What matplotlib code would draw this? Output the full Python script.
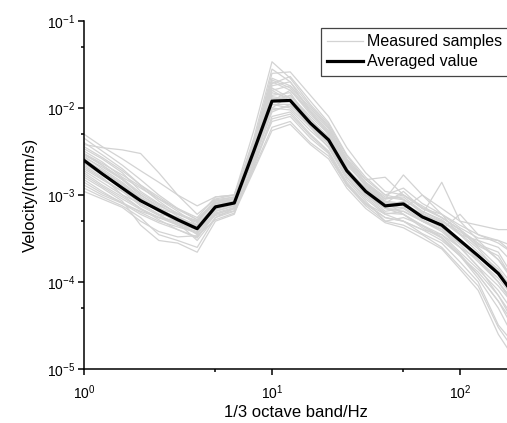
import matplotlib as mpl
mpl.use('Agg')
import matplotlib.pyplot as plt
import matplotlib.ticker as tick
import numpy as np

plt.rcParams['font.family'] = ['Liberation Sans', 'DejaVu Sans']
plt.rcParams['mathtext.fontset'] = 'custom'
plt.rcParams['mathtext.rm'] = 'Liberation Sans'
plt.rcParams['mathtext.it'] = 'Liberation Sans'

# 1/3 octave band centre frequencies (Hz)
freq = [1, 1.25, 1.6, 2, 2.5, 3.15, 4, 5, 6.3, 8, 10, 12.5, 16, 20, 25, 31.5,
        40, 50, 63, 80, 100, 125, 160, 200]

# averaged velocity, um/s
avg = [2.5, 1.75, 1.2, 0.86, 0.67, 0.52, 0.41, 0.73, 0.81, 3.2, 12.0, 12.2,
       6.7, 4.3, 1.9, 1.1, 0.75, 0.79, 0.56, 0.45, 0.30, 0.20, 0.125, 0.065]

# measured samples, um/s
samples = [
    [5.0, 3.6, 2.6, 1.9, 1.4, 1.0, 0.75, 0.95, 1.0, 5.5, 34, 22, 11, 6.5, 2.8, 1.5, 1.0, 1.2, 0.8, 0.6, 0.45, 0.35, 0.28, 0.2],
    [3.8, 3.5, 3.3, 3.0, 1.8, 1.0, 0.6, 0.9, 1.0, 4.0, 25, 26, 14, 8, 3.5, 1.8, 1.1, 1.0, 0.7, 0.55, 0.4, 0.28, 0.18, 0.09],
    [3.0, 2.2, 1.5, 1.0, 0.75, 0.6, 0.5, 0.85, 0.95, 3.5, 18, 20, 9, 5.5, 2.2, 1.3, 0.9, 1.7, 1.0, 0.7, 0.5, 0.45, 0.4, 0.4],
    [2.2, 1.6, 1.0, 0.7, 0.55, 0.45, 0.38, 0.7, 0.8, 2.8, 10, 14, 8, 5.0, 2.0, 1.0, 0.7, 0.6, 0.45, 0.35, 0.22, 0.14, 0.08, 0.04],
    [1.5, 1.1, 0.8, 0.6, 0.48, 0.4, 0.32, 0.6, 0.7, 2.2, 8, 9, 5, 3.2, 1.4, 0.8, 0.55, 0.5, 0.4, 0.3, 0.2, 0.12, 0.06, 0.025],
    [2.8, 2.0, 1.4, 0.95, 0.7, 0.5, 0.35, 0.65, 0.75, 3.0, 15, 13, 7.5, 4.5, 1.8, 1.2, 0.8, 0.75, 0.6, 1.4, 0.5, 0.3, 0.18, 0.1],
    [1.2, 0.95, 0.75, 0.55, 0.35, 0.3, 0.25, 0.55, 0.65, 2.0, 6, 7, 4, 2.8, 1.3, 0.75, 0.5, 0.45, 0.35, 0.25, 0.15, 0.09, 0.03, 0.015],
    [3.4, 2.6, 1.8, 1.1, 0.8, 0.62, 0.5, 0.8, 0.9, 3.8, 20, 16, 8.5, 5.2, 2.4, 1.4, 0.9, 0.95, 0.65, 0.5, 0.35, 0.22, 0.14, 0.07],
    [1.9, 1.4, 1.0, 0.8, 0.6, 0.55, 0.45, 0.75, 0.85, 2.6, 11, 10, 6, 3.8, 1.6, 0.9, 0.6, 0.65, 0.5, 0.4, 0.6, 0.35, 0.3, 0.2],
    [2.5, 1.9, 1.3, 0.9, 0.65, 0.48, 0.3, 0.55, 0.7, 3.3, 13, 12, 6.5, 4.0, 1.7, 1.0, 0.65, 0.7, 0.5, 0.38, 0.25, 0.15, 0.09, 0.05],
    [3.2, 2.4, 1.6, 1.2, 0.9, 0.7, 0.55, 0.95, 1.0, 4.2, 22, 18, 10, 6.0, 2.6, 1.5, 1.6, 1.0, 0.75, 0.55, 0.4, 0.25, 0.15, 0.08],
    [1.6, 1.2, 0.85, 0.45, 0.3, 0.28, 0.22, 0.5, 0.6, 2.4, 9, 11, 6, 3.5, 1.5, 0.85, 0.5, 0.55, 0.45, 0.32, 0.2, 0.11, 0.05, 0.02],
    [2.0, 1.5, 1.1, 0.85, 0.7, 0.6, 0.5, 0.8, 0.85, 2.9, 12, 14, 7.5, 4.6, 2.0, 1.2, 0.85, 0.8, 0.6, 0.45, 0.3, 0.18, 0.1, 0.05],
    [2.7, 2.1, 1.5, 1.0, 0.72, 0.52, 0.42, 0.7, 0.8, 3.1, 14, 15, 7, 4.2, 1.9, 1.1, 0.75, 0.85, 0.55, 0.42, 0.28, 0.2, 0.12, 0.07],
    [1.3, 1.0, 0.8, 0.65, 0.55, 0.47, 0.4, 0.6, 0.7, 2.3, 7, 8, 4.5, 3.0, 1.3, 0.8, 0.6, 0.5, 0.4, 0.35, 0.25, 0.15, 0.07, 0.03],
    [4.0, 2.9, 2.0, 1.3, 0.9, 0.65, 0.45, 0.75, 0.85, 3.6, 17, 13, 7, 4.4, 2.0, 1.2, 0.8, 0.7, 1.0, 0.6, 0.35, 0.3, 0.25, 0.15],
    [2.3, 1.7, 1.2, 0.78, 0.6, 0.45, 0.36, 0.65, 0.75, 3.0, 12, 16, 9, 5, 2.1, 1.0, 0.7, 0.65, 0.5, 0.4, 0.25, 0.18, 0.11, 0.06],
    [1.8, 1.3, 0.95, 0.7, 0.52, 0.4, 0.33, 0.62, 0.72, 2.7, 10, 9.5, 5.5, 3.6, 1.6, 0.95, 0.62, 0.6, 0.42, 0.32, 0.2, 0.13, 0.07, 0.035],
    [2.6, 1.9, 1.35, 0.92, 0.68, 0.55, 0.43, 0.78, 0.9, 3.4, 16, 12, 6.2, 4.0, 1.8, 1.15, 0.8, 1.1, 0.7, 0.6, 0.42, 0.32, 0.3, 0.25],
    [3.0, 2.3, 1.7, 1.25, 0.85, 0.6, 0.48, 0.82, 0.92, 3.7, 19, 23, 12, 6.8, 2.9, 1.6, 1.0, 0.9, 0.62, 0.48, 0.3, 0.18, 0.1, 0.05],
    [1.4, 1.05, 0.82, 0.63, 0.5, 0.43, 0.37, 0.58, 0.66, 2.1, 7.5, 8.5, 4.8, 3.1, 1.35, 0.78, 0.55, 0.5, 0.36, 0.28, 0.17, 0.1, 0.032, 0.018],
    [2.1, 1.55, 1.1, 0.75, 0.58, 0.47, 0.4, 0.7, 0.78, 2.9, 11, 11, 6.4, 4.1, 1.8, 1.0, 0.72, 0.8, 0.58, 0.5, 0.38, 0.26, 0.2, 0.09],
    [4.5, 3.2, 2.2, 1.5, 1.0, 0.7, 0.52, 0.88, 0.95, 4.5, 28, 20, 10.5, 6.2, 2.6, 1.4, 0.95, 0.88, 0.65, 0.52, 0.36, 0.24, 0.13, 0.06],
    [1.7, 1.25, 0.9, 0.68, 0.55, 0.5, 0.46, 0.72, 0.8, 2.5, 9.5, 10.5, 6.8, 4.8, 2.3, 1.3, 0.85, 0.6, 0.44, 0.33, 0.21, 0.12, 0.06, 0.03],
    [2.4, 1.8, 1.25, 0.88, 0.64, 0.5, 0.4, 0.68, 0.78, 3.2, 13.5, 12.5, 6.6, 4.2, 1.85, 1.05, 0.7, 0.72, 0.52, 0.4, 0.27, 0.17, 0.1, 0.055],
    [2.9, 2.2, 1.55, 1.05, 0.78, 0.57, 0.44, 0.74, 0.86, 3.5, 16, 18, 9.5, 5.8, 2.4, 1.25, 0.82, 0.78, 0.55, 0.44, 0.3, 0.2, 0.13, 0.075],
    [1.1, 0.9, 0.72, 0.5, 0.38, 0.33, 0.34, 0.52, 0.62, 1.9, 5.5, 6.5, 3.8, 2.6, 1.2, 0.7, 0.48, 0.42, 0.32, 0.24, 0.14, 0.08, 0.025, 0.012],
    [3.6, 2.7, 1.9, 1.3, 0.95, 0.68, 0.52, 0.85, 0.9, 3.9, 21, 17, 9, 5.4, 2.5, 1.35, 0.9, 1.0, 0.72, 0.55, 0.4, 0.27, 0.22, 0.1],
]

fig = plt.figure(figsize=(5.07, 4.23), dpi=100)
ax1 = fig.add_axes([84/507, 1-369/423, 1-84/507, (369-21)/423])

f = np.array(freq)
for i, s in enumerate(samples):
    ax1.plot(f, np.array(s)*1e-3, color='#d3d3d3', linewidth=0.9,
             label='Measured samples' if i == 0 else None)
ax1.plot(f, np.array(avg)*1e-3, color='black', linewidth=2.3, label='Averaged value')

ax1.set_xscale('log')
ax1.set_yscale('log')
ax1.set_xlim(1, 10**(2+47/188))
ax1.set_ylim(1e-5, 1e-1)

ax1.xaxis.set_major_locator(tick.LogLocator(base=10, numticks=10))
ax1.xaxis.set_minor_locator(tick.LogLocator(base=10, subs=[5], numticks=10))
ax1.yaxis.set_major_locator(tick.LogLocator(base=10, numticks=10))
ax1.yaxis.set_minor_locator(tick.LogLocator(base=10, subs=[5], numticks=10))
ax1.xaxis.set_minor_formatter(tick.NullFormatter())
ax1.yaxis.set_minor_formatter(tick.NullFormatter())

for sp in ['top', 'right']:
    ax1.spines[sp].set_visible(False)
for sp in ['left', 'bottom']:
    ax1.spines[sp].set_linewidth(1.1)

ax1.tick_params(which='major', direction='out', length=4.5, width=1.1, labelsize=10, pad=2)
ax1.tick_params(which='minor', direction='out', length=2.5, width=1.1)
ax1.tick_params(axis='x', which='major', pad=6)

ax1.set_xlabel('1/3 octave band/Hz', fontsize=12, labelpad=2)
ax1.set_ylabel('Velocity/(mm/s)', fontsize=12, labelpad=6)

leg = ax1.legend(loc='upper left', bbox_to_anchor=((321-84)/423, 1-(28-21)/348),
                 fontsize=11.5, fancybox=False, edgecolor='#444444',
                 borderaxespad=0, handlelength=2.2, handletextpad=0.3,
                 borderpad=0.4, labelspacing=0.3, framealpha=1)
leg.get_frame().set_linewidth(0.9)

plt.savefig('out.png', dpi=100)
